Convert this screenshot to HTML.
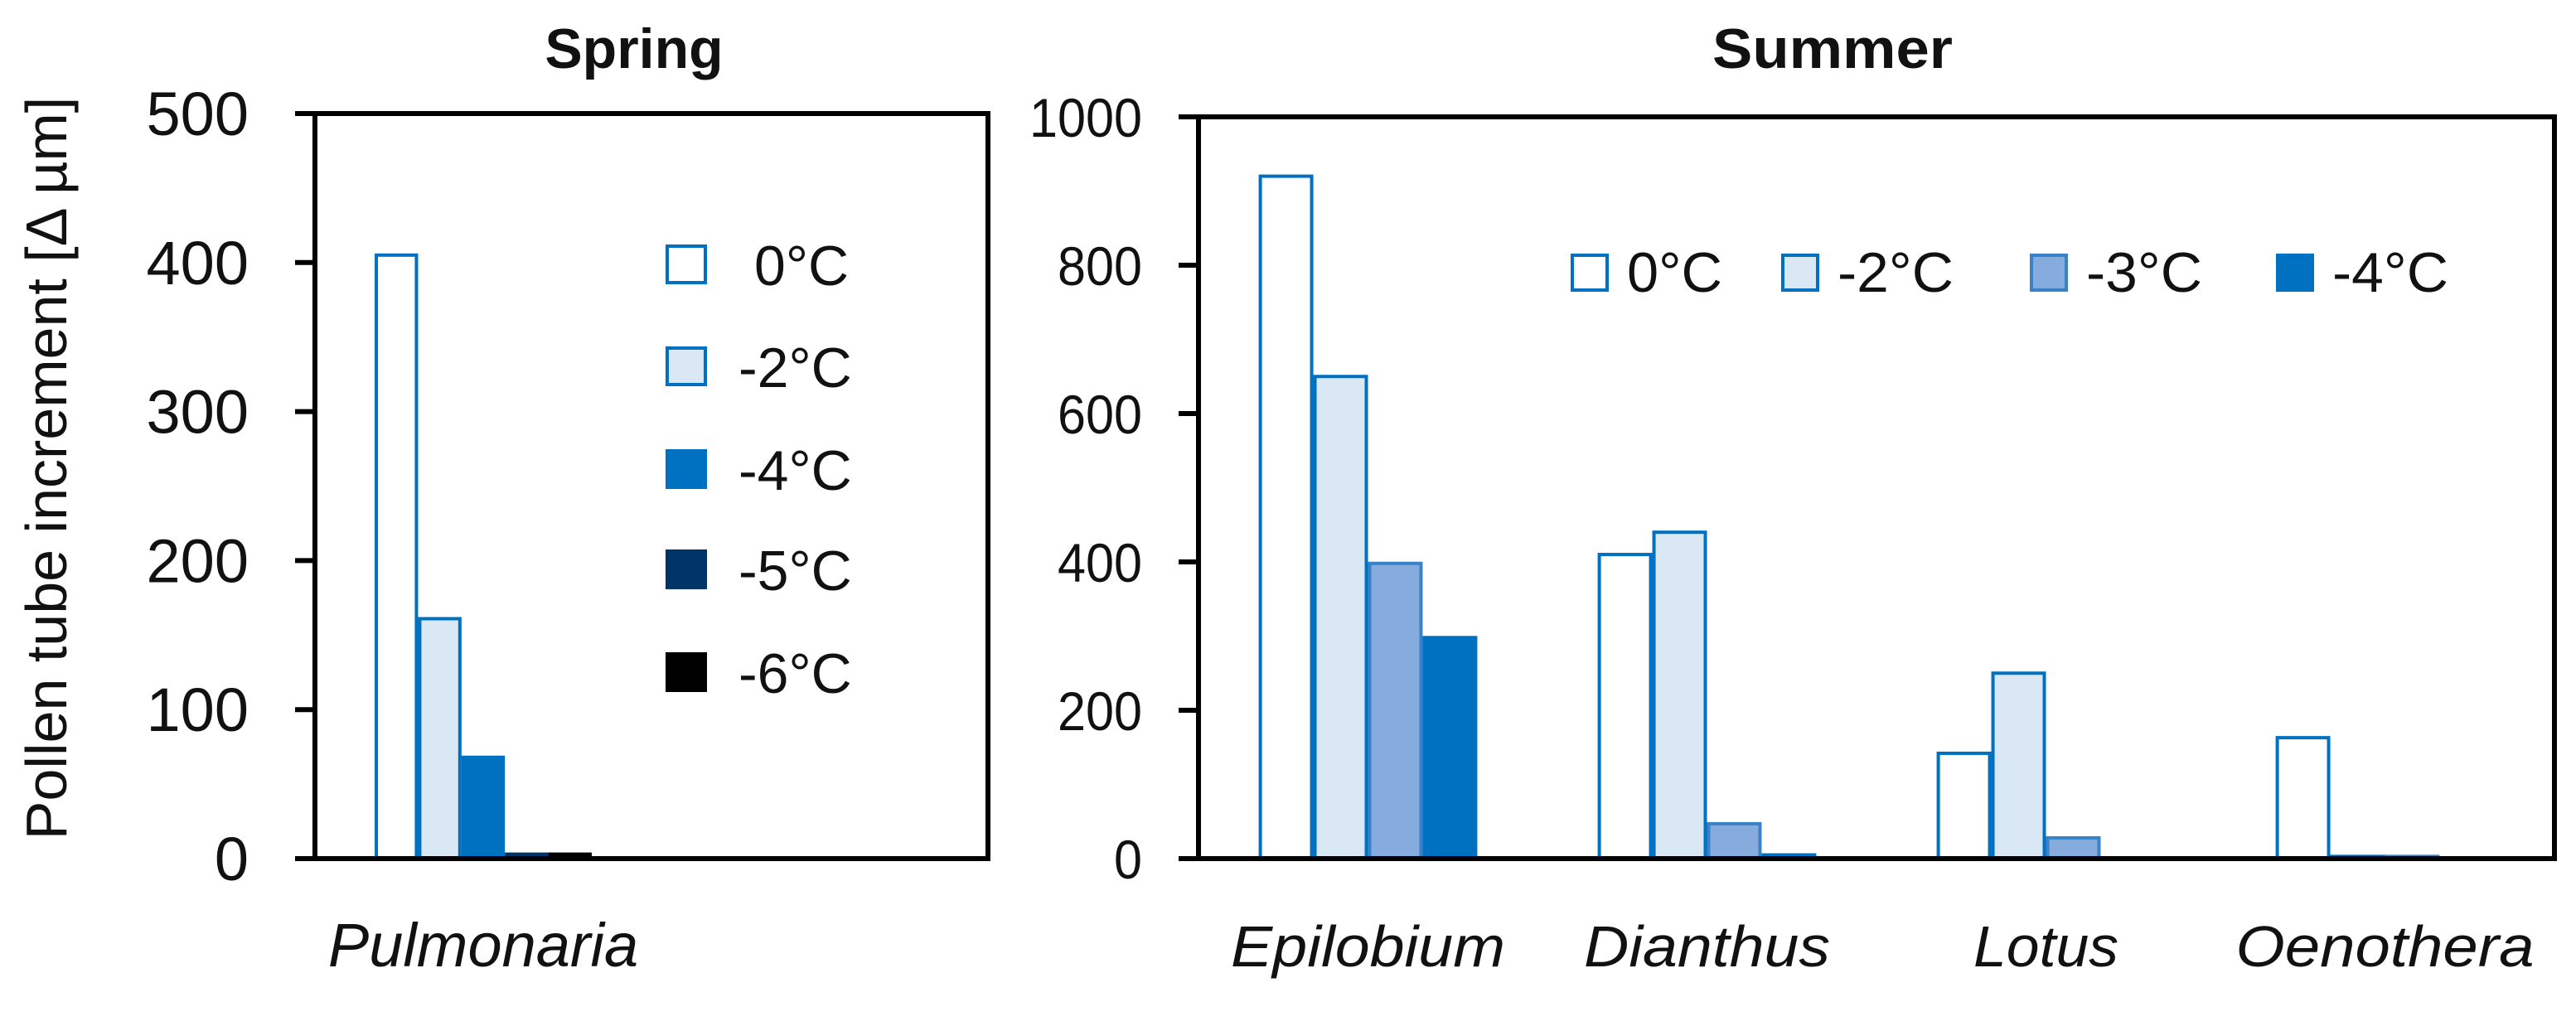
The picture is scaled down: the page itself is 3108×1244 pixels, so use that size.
<!DOCTYPE html>
<html><head><meta charset="utf-8"><style>
html,body{margin:0;padding:0;background:#fff;}
svg{display:block;font-family:"Liberation Sans",sans-serif;}
</style></head><body>
<svg id="chart" width="3108" height="1244" viewBox="0 0 3108 1244" xmlns="http://www.w3.org/2000/svg">
<text x="0" y="0" transform="translate(80,565) rotate(-90)" text-anchor="middle" font-size="70" fill="#111">Pollen tube increment [Δ µm]</text>
<text x="765" y="82" text-anchor="middle" font-size="68" font-weight="bold" fill="#111">Spring</text>
<text x="2211" y="82" text-anchor="middle" font-size="68" font-weight="bold" fill="#111" textLength="290" lengthAdjust="spacingAndGlyphs">Summer</text>
<g id="g"></g>
</svg>
<script>
const springCats = ["Pulmonaria", ""];
const springSeries = ["0°C", "-2°C", "-4°C", "-5°C", "-6°C"];
const springValues = [[405], [161], [68], [3], [3]];
const springTicks = [0, 100, 200, 300, 400, 500];

const summerCats = ["Epilobium", "Dianthus", "Lotus", "Oenothera"];
const summerSeries = ["0°C", "-2°C", "-3°C", "-4°C"];
const summerValues = [[920, 410, 142, 163], [650, 440, 250, 3], [398, 47, 28, 3], [298, 5, 0, 0]];
const summerTicks = [0, 200, 400, 600, 800, 1000];

const styles = {
  "0°C": ["#ffffff", "#0070C0"],
  "-2°C": ["#DAE8F5", "#0070C0"],
  "-3°C": ["#85ACDD", "#3a82c8"],
  "-4°C": ["#0070C0", "#0070C0"],
  "-5°C": ["#003366", "#003366"],
  "-6°C": ["#000000", "#000000"]
};
const catLen = {"Epilobium": 331, "Dianthus": 297, "Lotus": 175, "Oenothera": 360};
const NS = "http://www.w3.org/2000/svg";
const root = document.getElementById("g");
function mk(tag, attrs, parent) {
  const e = document.createElementNS(NS, tag);
  for (const k in attrs) e.setAttribute(k, attrs[k]);
  (parent || root).appendChild(e);
  return e;
}
function panel(name, L, R, T, B, cats, series, values, ticks, nSlots) {
  const max = ticks[ticks.length - 1];
  const y = v => B - (v / max) * (B - T);
  const catW = (R - L) / cats.length;
  const barW = catW * 0.645 / nSlots;
  const g = mk("g", {});
  
  
  series.forEach((s, si) => {
    values[si].forEach((v, ci) => {
      if (v <= 0) return;
      const cx = L + catW * (ci + 0.5);
      const x0 = cx - barW * nSlots / 2 + si * barW;
      const st = styles[s];
      const r = mk("rect", {x: x0 + 2, y: y(v), width: barW - 4 + 0.01, height: B - y(v), fill: st[0], stroke: st[1], "stroke-width": 4}, g);
      
      
    });
  });
  const f = mk("rect", {x: L, y: T, width: R - L, height: B - T, fill: "none", stroke: "#000", "stroke-width": 6}, g);
  
  
  ticks.forEach(t => {
    const ln = mk("line", {x1: L - 24, x2: L, y1: y(t), y2: y(t), stroke: "#000", "stroke-width": 6}, g);
    
    
    let tx;
    if (name === 'spring') {
      tx = mk("text", {x: 300, y: y(t) + 26, "text-anchor": "end", "font-size": 74, fill: "#111"}, g);
    } else {
      const s = String(t);
      tx = mk("text", {x: 1378, y: y(t) + 24, "text-anchor": "end", "font-size": 66, fill: "#111", textLength: s.length * 34, lengthAdjust: "spacingAndGlyphs"}, g);
    }
    tx.textContent = t;
    
    
  });
  cats.forEach((c, ci) => {
    if (!c) return;
    const attrs = {x: L + catW * (ci + 0.5), y: 1166, "text-anchor": "middle", "font-size": name === 'spring' ? 74 : 70, "font-style": "italic", fill: "#111"};
    if (catLen[c]) { attrs.textLength = catLen[c]; attrs.lengthAdjust = "spacingAndGlyphs"; }
    const tx = mk("text", attrs, g);
    tx.textContent = c;
    
    
  });
}
panel('spring', 380, 1192, 137, 1036, springCats, springSeries, springValues, springTicks, 5);
panel('summer', 1446, 3082, 141, 1036, summerCats, summerSeries, summerValues, summerTicks, 4);

const sRows = [319, 442, 566, 687, 811];
springSeries.forEach((s, i) => {
  const st = styles[s];
  const sq = mk("rect", {x: 805, y: sRows[i] - 22, width: 46, height: 44, fill: st[0], stroke: st[1], "stroke-width": 4});
  
  
  const tx = mk("text", {x: s === "0°C" ? 910 : 891, y: sRows[i] + 25, "font-size": 68, fill: "#111"});
  tx.textContent = s;
  
  
});
const sumSq = [1897, 2151, 2451, 2748];
summerSeries.forEach((s, i) => {
  const st = styles[s];
  const sq = mk("rect", {x: sumSq[i], y: 308, width: 42, height: 42, fill: st[0], stroke: st[1], "stroke-width": 4});
  
  
  const tx = mk("text", {x: sumSq[i] + 66, y: 352, "font-size": 68, fill: "#111", textLength: s === "0°C" ? 115 : 140, lengthAdjust: "spacingAndGlyphs"});
  tx.textContent = s;
  
  
});
</script>
</body></html>
